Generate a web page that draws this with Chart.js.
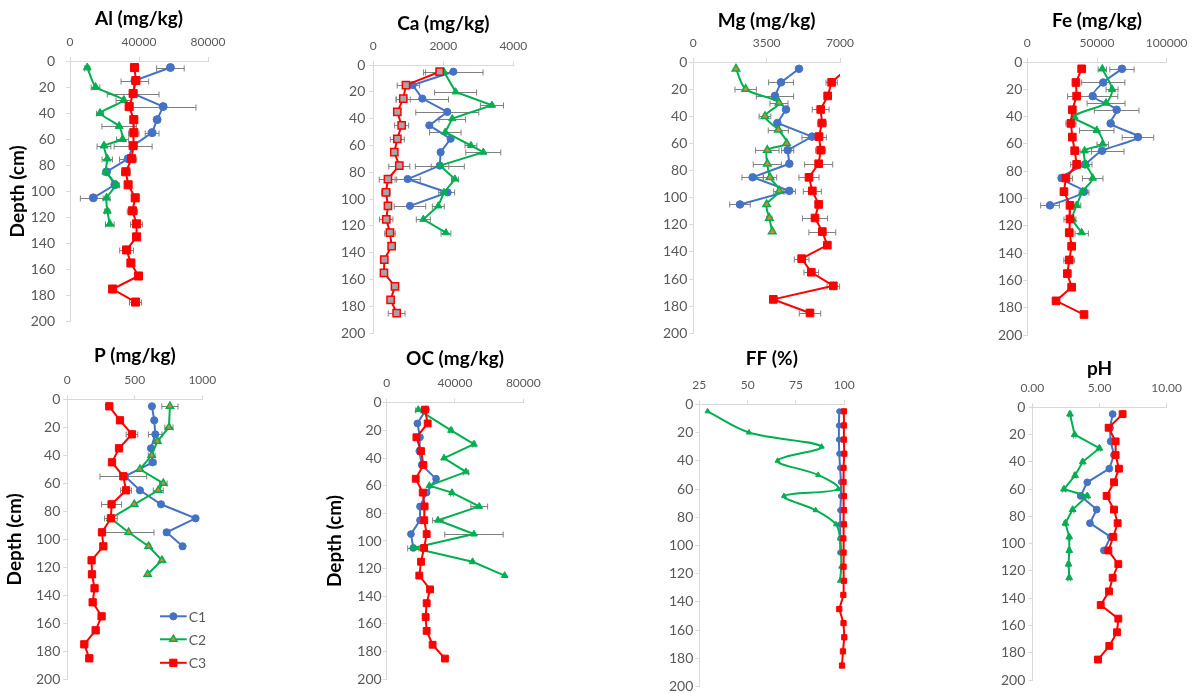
<!DOCTYPE html>
<html>
<head>
<meta charset="utf-8">
<title>Soil depth profiles</title>
<script src="https://cdn.jsdelivr.net/npm/chart.js@4.4.1/dist/chart.umd.min.js"></script>
<style>
    html, body { margin: 0; padding: 0; background: #fff; }
    #page { position: relative; width: 1200px; height: 693px; overflow: hidden; }
    #page canvas { position: absolute; }
</style>
</head>
<body>
<div id="page"></div>
<script>
// Depths (cm) of each core
const depthC1 = [5, 15, 25, 35, 45, 55, 65, 75, 85, 95, 105];
const depthC2 = [5, 20, 30, 40, 50, 60, 65, 75, 85, 95, 105, 115, 125];
const depthC3 = [5, 15, 25, 35, 45, 55, 65, 75, 85, 95, 105, 115, 125, 135, 145, 155, 165, 175, 185];
const depthTicks = [0, 20, 40, 60, 80, 100, 120, 140, 160, 180, 200];

// Al (mg/kg)
const alTicks = [0, 40000, 80000];
const alC1 = [58200, 37600, 36600, 54000, 50500, 47600, 36600, 33700, 21200, 26000, 13500];
const alC2 = [10000, 14800, 31200, 17400, 28500, 30500, 19700, 21600, 20800, 26600, 21200, 21600, 23100];
const alC3 = [37400, 38200, 36600, 34300, 37000, 37000, 36600, 35700, 32400, 33700, 37800, 36200, 38600, 38600, 32800, 35300, 39700, 24700, 38000];
const alC1Err = [8000, 8000, 15000, 19000, null, 4000, null, 5000, null, null, 7500];
const alC2Err = [1500, 2500, 4500, 2000, 10000, 3500, 4000, 3000, 1500, 2000, 2000, 1500, 2500];
const alC3Err = [null, null, null, 2000, null, 3000, 11000, null, 2500, null, 2000, 3000, 3500, null, 4000, null, null, null, 3500];

// Ca (mg/kg)
const caTicks = [0, 2000, 4000];
const caC1 = [2286, 1124, 1400, 2114, 1600, 2210, 1924, 1900, 981, 2124, 1048];
const caC2 = [2019, 2352, 3390, 2257, 2057, 2790, 3143, 1905, 2333, 2019, 1857, 1429, 2076];
const caC3 = [1895, 933, 857, 686, 810, 686, 600, 743, 419, 362, 419, 371, 476, 524, 314, 305, 619, 495, 667];
const caC1Err = [850, 200, 750, 900, null, null, null, 700, 360, 200, 450];
const caC2Err = [null, 600, 330, 380, 450, 170, 500, 250, 100, 150, 170, 200, 140];
const caC3Err = [400, 250, 200, null, 200, 200, null, 300, 250, 120, null, 190, 150, null, null, null, null, null, 240];

// Mg (mg/kg)
const mgTicks = [0, 3500, 7000];
const mgC1 = [5044, 4185, 3898, 4423, 4010, 5664, 4503, 4582, 2832, 4582, 2227];
const mgC2 = [2036, 2498, 4089, 3420, 4057, 4455, 3532, 3532, 3659, 4105, 3500, 3627, 3770];
const mgC3 = [7330, 6602, 6412, 6078, 6141, 5998, 6078, 5982, 5520, 5680, 5982, 5807, 6157, 6396, 5170, 5632, 6682, 3818, 5568];
const mgC1Err = [null, 590, 890, null, null, 480, 290, null, 510, 290, 490];
const mgC2Err = [null, 510, 430, 280, 480, null, 560, 670, 320, 270, null, 130, null];
const mgC3Err = [null, 270, null, 400, 200, 350, 240, 670, 480, 430, null, 600, 640, null, 350, 350, 300, null, 510];

// Fe (mg/kg)
const feTicks = [0, 50000, 100000];
const feC1 = [67900, 54500, 46900, 64100, 59800, 79400, 53600, 41400, 24600, 40700, 16300];
const feC2 = [53800, 60800, 56500, 33700, 49800, 54100, 41100, 42100, 46900, 39700, 35400, 32500, 39000];
const feC3 = [39000, 34900, 35400, 32300, 31300, 32300, 34000, 35400, 27700, 26300, 30600, 30600, 30100, 31800, 30100, 28700, 31800, 20600, 40700];
const feC1Err = [8700, 15500, 18000, 16000, null, 11300, 15800, 5000, null, 3500, 6700];
const feC2Err = [3000, 4300, 13600, null, 12400, 4100, 5000, null, 7400, null, 3000, null, 4800];
const feC3Err = [null, null, null, null, 3600, null, null, 4300, 4800, null, null, 4300, 2600, null, 3900, null, null, null, null];

// P (mg/kg)
const pTicks = [0, 500, 1000];
const pC1 = [627, 644, 652, 620, 632, 427, 538, 694, 950, 736, 854];
const pC2 = [760, 753, 667, 625, 538, 711, 674, 496, 321, 454, 602, 701, 595];
const pC3 = [311, 390, 479, 383, 331, 415, 435, 328, 323, 257, 267, 180, 183, 202, 188, 254, 210, 126, 163];
const pC1Err = [null, null, 50, null, 25, null, null, null, null, 20, null];
const pC2Err = [60, 30, 20, 25, null, 28, 37, null, null, 188, 15, 10, null];
const pC3Err = [null, null, 43, null, null, 173, 40, 74, 47, null, null, null, null, null, null, null, null, null, null];

// OC (mg/kg)
const ocTicks = [0, 40000, 80000];
const ocC1 = [23000, 18000, 19500, 19100, 20500, 28900, 23400, 19500, 19500, 14200, 15600];
const ocC2 = [18500, 37700, 51100, 33600, 46400, 25000, 38200, 54200, 30000, 51100, 15600, 50300, 69100];
const ocC3 = [22400, 24000, 17400, 20100, 21500, 17000, 21100, 22200, 22000, 23400, 21900, 20100, 19100, 25400, 23400, 22800, 23400, 26900, 34100];
const ocC1Err = [];
const ocC2Err = [1500, 800, 800, null, 1600, null, 800, 4900, 3100, 17100, 3300, null, null];
const ocC3Err = [];

// FF (%)
const ffTicks = [25, 50, 75, 100];
const ffC1 = [97.4, 97.2, 97.2, 97.4, 97.8, 98.3, 98.3, 97.9, 97.8, 98.0, 97.9];
const ffC2 = [29.3, 50.7, 88.3, 65.5, 86.5, 96.9, 68.8, 85.2, 95.7, 97.8, 98.3, 98.4, 97.8];
const ffC3 = [99.8, 99.8, 99.8, 100, 99.6, 99.6, 99.8, 99.8, 99.8, 99.5, 99.6, 99.6, 99.8, 99.5, 97.4, 99.6, 100, 99.3, 98.8];

// pH
const phTicks = [0, 5, 10];
const phC1 = [5.98, 5.78, 5.83, 6.08, 5.73, 4.09, 3.60, 4.79, 4.29, 5.83, 5.33];
const phC2 = [2.80, 3.15, 4.99, 3.75, 3.18, 2.36, 4.09, 3.00, 2.46, 2.75, 2.75, 2.70, 2.75];
const phC3 = [6.72, 5.68, 6.20, 6.20, 6.45, 6.08, 5.53, 6.08, 6.35, 6.03, 5.66, 6.40, 5.98, 5.71, 5.09, 6.40, 6.30, 5.73, 4.89];
const phC2Err = [0.1, 0.1, 0.1, 0.1, 0.1, 0.12, 0.1, 0.1, 0.1, 0.1, 0.1, 0.1, 0.1];

const seriesNames = ['C1', 'C2', 'C3'];
const seriesDepths = [depthC1, depthC2, depthC3];

const FONT = 'Lato, "Open Sans", "DejaVu Sans", sans-serif';
const BLUE = '#4472C4';
const GREEN = '#00B050';
const RED = '#FF0000';
const ORANGE = '#ED7D31';
const GREY_FILL = '#A5A5A5';
const AXIS = '#D9D9D9';
const TICK_TXT = '#595959';
const X_H = 27;   // height kept for the top value axis
const TITLE_SIZE = 19;

const panels = [
    { title: 'Al (mg/kg)', xTicks: alTicks, values: [alC1, alC2, alC3], errs: [alC1Err, alC2Err, alC3Err],
      box: { l: 70, r: 208, t: 61, b: 327 }, yw: 70, depth: true, depthPad: 6, titlePad: 3.6, tickPad: 11, ms: 1,
      tension: [0, 0.15, 0] },
    { title: 'Ca (mg/kg)', xTicks: caTicks, values: [caC1, caC2, caC3], errs: [caC1Err, caC2Err, caC3Err],
      box: { l: 373.3, r: 513.3, t: 65, b: 333.3 }, yw: 45, titlePad: 2.6, tickPad: 4, ms: 0.9,
      tension: [0, 0, 0], c3Fill: GREY_FILL },
    { title: 'Mg (mg/kg)', xTicks: mgTicks, values: [mgC1, mgC2, mgC3], errs: [mgC1Err, mgC2Err, mgC3Err],
      box: { l: 693.3, r: 840, t: 62, b: 333.3 }, yw: 45, titlePad: 2.6, tickPad: 2, ms: 0.95,
      tension: [0, 0.3, 0], c2Fill: ORANGE, clipRight: true },
    { title: 'Fe (mg/kg)', xTicks: feTicks, values: [feC1, feC2, feC3], errs: [feC1Err, feC2Err, feC3Err],
      box: { l: 1027.3, r: 1166.7, t: 62, b: 335 }, yw: 45, titlePad: 2.6, tickPad: 1, ms: 0.95,
      tension: [0.25, 0.3, 0] },
    { title: 'P (mg/kg)', xTicks: pTicks, values: [pC1, pC2, pC3], errs: [pC1Err, pC2Err, pC3Err],
      box: { l: 67.3, r: 202.3, t: 399.3, b: 679.3 }, yw: 67.3, depth: true, depthPad: 3.6, titlePad: 4.6, tickPad: 3, ms: 0.9,
      tension: [0, 0, 0], c2Fill: ORANGE, legend: true },
    { title: 'OC (mg/kg)', xTicks: ocTicks, values: [ocC1, ocC2, ocC3], errs: [ocC1Err, ocC2Err, ocC3Err],
      box: { l: 386.7, r: 523.3, t: 402.7, b: 679.3 }, yw: 66.7, depth: true, depthPad: 3.3, titlePad: 5.6, tickPad: 1, ms: 0.85,
      tension: [0, 0, 0] },
    { title: 'FF (%)', xTicks: ffTicks, values: [ffC1, ffC2, ffC3], errs: [[], [], []],
      box: { l: 699.3, r: 844.3, t: 404.3, b: 686.7 }, yw: 45, titlePad: 6.6, tickPad: 2, ms: 0.65,
      tension: [0, 0.35, 0] },
    { title: 'pH', xTicks: phTicks, values: [phC1, phC2, phC3], errs: [[], phC2Err, []], decimals: 2,
      box: { l: 1032.3, r: 1166.7, t: 407.3, b: 680 }, yw: 45, titlePad: 0, tickPad: 3, ms: 0.85,
      tension: [0, 0, 0] }
];

const page = document.getElementById('page');

// Dibuja un marcador simple (para la leyenda)
const drawMarker = (ctx, style, x, y, r, fill, stroke, bw) => {
    ctx.beginPath();
    if (style === 'circle') {
        ctx.arc(x, y, r, 0, Math.PI * 2);
    } else if (style === 'triangle') {
        const edge = 3 * r / Math.sqrt(3);
        const h = edge * Math.sqrt(3) / 2;
        ctx.moveTo(x - edge / 2, y + h / 3);
        ctx.lineTo(x + edge / 2, y + h / 3);
        ctx.lineTo(x, y - 2 * h / 3);
    } else {
        const s = Math.SQRT1_2 * r;
        ctx.rect(x - s, y - s, 2 * s, 2 * s);
    }
    ctx.closePath();
    ctx.fillStyle = fill;
    ctx.fill();
    ctx.lineWidth = bw;
    ctx.strokeStyle = stroke;
    ctx.stroke();
};

const makePanel = (p) => {
    const titleH = TITLE_SIZE * 1.2 + p.titlePad;
    const topExact = p.box.t - X_H - titleH;
    const cTop = Math.floor(topExact);
    const cLeft = Math.floor(p.box.l - p.yw);
    const yw = p.box.l - cLeft;
    const plotW = p.box.r - p.box.l;
    const cW = Math.ceil(plotW + 2 * yw);
    const cH = Math.ceil(p.box.b - cTop + 14);

    const canvas = document.createElement('canvas');
    canvas.width = cW;
    canvas.height = cH;
    canvas.style.left = cLeft + 'px';
    canvas.style.top = cTop + 'px';
    page.appendChild(canvas);

    const styles = [
        { color: BLUE, fill: BLUE, shape: 'circle', r: 4 * p.ms, bw: 1 },
        { color: GREEN, fill: p.c2Fill || GREEN, shape: 'triangle', r: 4.6 * p.ms, bw: p.c2Fill ? 1.5 : 1 },
        { color: RED, fill: p.c3Fill || RED, shape: 'rect', r: 5.7 * p.ms, bw: p.c3Fill ? 1.5 : 1 }
    ];

    const datasets = p.values.map((vals, k) => ({
        label: seriesNames[k],
        data: vals.map((v, i) => ({ x: v, y: seriesDepths[k][i] })),
        showLine: true,
        borderColor: styles[k].color,
        backgroundColor: styles[k].fill,
        borderWidth: 2,
        pointStyle: styles[k].shape,
        pointRadius: styles[k].r,
        pointHoverRadius: styles[k].r,
        pointBorderColor: styles[k].color,
        pointBorderWidth: styles[k].bw,
        tension: p.tension[k],
        clip: (p.clipRight && k === 2) ? { left: 8, top: 8, right: 0, bottom: 8 } : 8,
        order: 3 - k
    }));

    // Barras de error horizontales (debajo de los marcadores)
    const errorBars = {
        id: 'errorBars',
        beforeDatasetsDraw(chart) {
            const ctx = chart.ctx;
            const xs = chart.scales.x;
            const ys = chart.scales.y;
            ctx.save();
            ctx.strokeStyle = '#7F7F7F';
            ctx.lineWidth = 1;
            p.errs.forEach((errs, k) => {
                (errs || []).forEach((e, i) => {
                    if (e == null) return;
                    const v = p.values[k][i];
                    const y = Math.round(ys.getPixelForValue(seriesDepths[k][i])) + 0.5;
                    const x0 = xs.getPixelForValue(v - e);
                    const x1 = xs.getPixelForValue(v + e);
                    ctx.beginPath();
                    ctx.moveTo(x0, y);
                    ctx.lineTo(x1, y);
                    ctx.moveTo(x0, y - 3);
                    ctx.lineTo(x0, y + 3);
                    ctx.moveTo(x1, y - 3);
                    ctx.lineTo(x1, y + 3);
                    ctx.stroke();
                });
            });
            ctx.restore();
        }
    };

    // Leyenda dentro del área del gráfico (solo panel P)
    const insideLegend = {
        id: 'insideLegend',
        afterDraw(chart) {
            if (!p.legend) return;
            const ctx = chart.ctx;
            const a = chart.chartArea;
            const rows = [217, 240, 263.5];
            ctx.save();
            styles.forEach((s, k) => {
                const y = a.top + rows[k];
                const x0 = a.left + 92.7;
                const x1 = a.left + 119.4;
                ctx.beginPath();
                ctx.moveTo(x0, y);
                ctx.lineTo(x1, y);
                ctx.strokeStyle = s.color;
                ctx.lineWidth = 2;
                ctx.stroke();
                drawMarker(ctx, s.shape, (x0 + x1) / 2, y, s.r, s.fill, s.color, s.bw);
                ctx.fillStyle = TICK_TXT;
                ctx.font = '14px ' + FONT;
                ctx.textAlign = 'left';
                ctx.textBaseline = 'middle';
                ctx.fillText(seriesNames[k], x1 + 2, y + 1);
            });
            ctx.restore();
        }
    };

    const axisGrid = { display: true, drawOnChartArea: false, drawTicks: true, tickLength: 4, color: AXIS };
    const axisBorder = { display: true, color: AXIS, width: 1 };

    return new Chart(canvas, {
        type: 'scatter',
        data: { datasets },
        options: {
            responsive: false,
            animation: false,
            devicePixelRatio: 1,
            events: [],
            layout: {
                padding: {
                    left: 0,
                    top: topExact - cTop,
                    right: cW - yw - plotW,
                    bottom: cH - (p.box.b - cTop)
                }
            },
            scales: {
                x: {
                    type: 'linear',
                    position: 'top',
                    min: p.xTicks[0],
                    max: p.xTicks[p.xTicks.length - 1],
                    afterBuildTicks: (s) => { s.ticks = p.xTicks.map(v => ({ value: v })); },
                    afterFit: (s) => { s.height = X_H; },
                    ticks: {
                        font: { family: FONT, size: 12 },
                        color: TICK_TXT,
                        padding: 8,
                        maxRotation: 0,
                        autoSkip: false,
                        callback: (v) => p.decimals ? Number(v).toFixed(p.decimals) : String(v)
                    },
                    grid: axisGrid,
                    border: axisBorder
                },
                y: {
                    type: 'linear',
                    reverse: true,
                    min: 0,
                    max: 200,
                    afterBuildTicks: (s) => { s.ticks = depthTicks.map(v => ({ value: v })); },
                    afterFit: (s) => { s.width = yw; },
                    ticks: {
                        font: { family: FONT, size: 14 },
                        color: TICK_TXT,
                        padding: p.tickPad,
                        autoSkip: false
                    },
                    title: {
                        display: !!p.depth,
                        text: 'Depth (cm)',
                        font: { family: FONT, size: TITLE_SIZE, weight: 'bold' },
                        color: '#000',
                        padding: { top: p.depthPad || 0, bottom: 0 }
                    },
                    grid: axisGrid,
                    border: axisBorder
                }
            },
            plugins: {
                legend: { display: false },
                tooltip: { enabled: false },
                title: {
                    display: true,
                    fullSize: false,
                    text: p.title,
                    font: { family: FONT, size: TITLE_SIZE, weight: 'bold' },
                    color: '#000',
                    padding: { top: 0, bottom: p.titlePad }
                }
            }
        },
        plugins: [errorBars, insideLegend]
    });
};

panels.forEach(makePanel);
</script>
</body>
</html>
